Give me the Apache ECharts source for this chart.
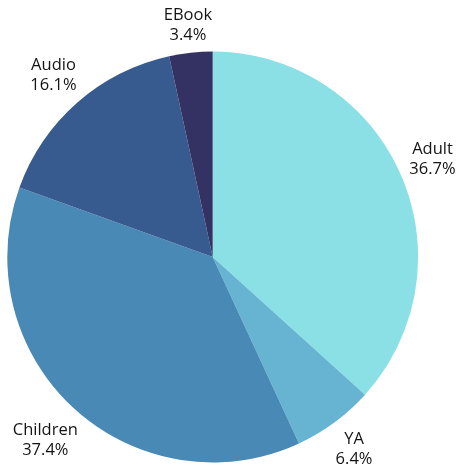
<!DOCTYPE html>
<html>
<head>
<meta charset="utf-8">
<script src="https://cdn.jsdelivr.net/npm/echarts@6/dist/echarts.min.js"></script>
<style>html,body{margin:0;padding:0;background:#fff;}#c{width:456px;height:466px;}</style>
</head>
<body>
<div id="c"></div>
<script>
var categories = ['Adult', 'YA', 'Children', 'Audio', 'EBook'];
var values = [36.7, 6.4, 37.4, 16.1, 3.4];
var colors = ['#8be0e6', '#66b3d2', '#4889b5', '#385b8f', '#333263'];

var CX = 212.7, CY = 257, R = 205.4, GAP = 6;

var chart = echarts.init(document.getElementById('c'));
var data = categories.map(function (n, i) {
  return { name: n, value: values[i], itemStyle: { color: colors[i] } };
});
var labelData = categories.map(function (n, i) {
  return { name: n, value: values[i] };
});

function boxDist(t, ux, uy, hw, hh) {
  var px = Math.abs(t * ux), py = Math.abs(t * uy);
  var ex = Math.max(0, px - hw), ey = Math.max(0, py - hh);
  return Math.sqrt(ex * ex + ey * ey);
}

chart.setOption({
  animation: false,
  series: [
    {
      type: 'pie',
      center: [CX, CY],
      radius: [0, R],
      startAngle: 90,
      clockwise: true,
      silent: true,
      label: { show: false },
      labelLine: { show: false },
      data: data
    },
    {
      type: 'pie',
      center: [CX, CY],
      radius: [R, R + 70],
      startAngle: 90,
      clockwise: true,
      silent: true,
      itemStyle: { color: 'rgba(0,0,0,0)' },
      label: {
        show: true,
        position: 'inside',
        formatter: function (p) { return p.name + '\n' + p.value.toFixed(1) + '%'; },
        color: '#141414',
        fontFamily: 'Open Sans',
        fontSize: 16.5,
        lineHeight: 20,
        align: 'center'
      },
      labelLine: { show: false },
      labelLayout: function (p) {
        var lr = p.labelRect;
        var lx = lr.x + lr.width / 2, ly = lr.y + lr.height / 2;
        var vx = lx - CX, vy = ly - CY;
        var len = Math.sqrt(vx * vx + vy * vy);
        var ux = vx / len, uy = vy / len;
        var hw = lr.width / 2, hh = lr.height / 2;
        var target = R + GAP;
        var lo = 0, hi = 1000;
        for (var k = 0; k < 60; k++) {
          var mid = (lo + hi) / 2;
          if (boxDist(mid, ux, uy, hw, hh) < target) lo = mid; else hi = mid;
        }
        var t = (lo + hi) / 2;
        return { dx: CX + t * ux - lx, dy: CY + t * uy - ly };
      },
      data: labelData
    }
  ]
});
</script>
</body>
</html>
